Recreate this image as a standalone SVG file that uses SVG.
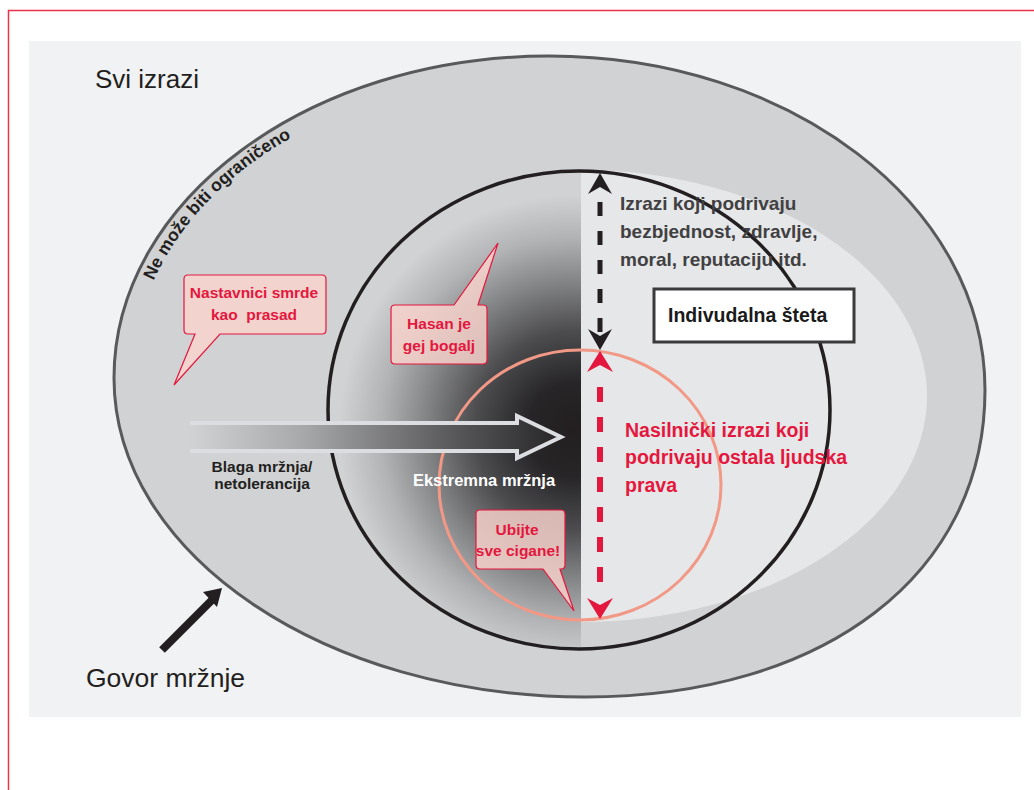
<svg xmlns="http://www.w3.org/2000/svg" width="1034" height="790" viewBox="0 0 1034 790">
  <defs>
    <style>
      .b { font-family: "Liberation Sans", Arial, sans-serif; font-weight: bold; }
      .r { font-family: "Liberation Sans", Arial, sans-serif; font-weight: normal; }
      .red { fill: #e4173e; }
      .bubble { fill: #fad3cc; fill-opacity: 0.82; stroke: #e4173e; stroke-width: 1.2; }
      .bubtxt { font-size: 15.5px; text-anchor: middle; }
    </style>
    <radialGradient id="dark" gradientUnits="userSpaceOnUse" cx="574" cy="430" r="235">
      <stop offset="0" stop-color="#231f20"/>
      <stop offset="0.2" stop-color="#272527"/>
      <stop offset="0.42" stop-color="#4c4c4e"/>
      <stop offset="0.62" stop-color="#808183"/>
      <stop offset="0.82" stop-color="#b2b3b5"/>
      <stop offset="1" stop-color="#d1d2d4"/>
    </radialGradient>
    <linearGradient id="arrowFill" gradientUnits="userSpaceOnUse" x1="190" y1="0" x2="562" y2="0">
      <stop offset="0" stop-color="#d1d2d4"/>
      <stop offset="0.3" stop-color="#a8a9ab"/>
      <stop offset="0.7" stop-color="#5a5a5c"/>
      <stop offset="1" stop-color="#262426"/>
    </linearGradient>
    <clipPath id="innerClip">
      <ellipse cx="579" cy="410" rx="250" ry="238"/>
    </clipPath>
    <clipPath id="rightClip">
      <rect x="581" y="100" width="500" height="600"/>
    </clipPath>
    <path id="curvePath" d="M133,378 C133,207 314,75 549,75"/>
  </defs>

  <rect x="0" y="0" width="1034" height="790" fill="#ffffff"/>
  <rect x="8.5" y="10.5" width="1040" height="800" fill="none" stroke="#e8334a" stroke-width="1.5"/>
  <rect x="29" y="41" width="992" height="676" fill="#f1f2f4"/>

  <g id="outer">
    <path d="M114,378 C114,200 309,56 549,56 C790,56 985,205 985,390 C985,574 825,697 585,697 C325,697 114,554 114,378 Z" fill="#d1d2d4" stroke="#58595b" stroke-width="3"/>
  </g>

  <g id="light-region">
    <ellipse cx="580" cy="396" rx="347" ry="226" fill="#e6e7e8" clip-path="url(#rightClip)"/>
  </g>

  <g id="dark-region">
    <rect x="320" y="160" width="261" height="500" fill="url(#dark)" clip-path="url(#innerClip)"/>
  </g>

  <g id="inner-circle">
    <ellipse cx="579" cy="410" rx="251" ry="239" fill="none" stroke="#231f20" stroke-width="3.5"/>
  </g>

  <g id="violent-circle">
    <ellipse cx="580" cy="485" rx="141" ry="135" fill="none" stroke="#f29886" stroke-width="3"/>
  </g>

  <g id="big-arrow">
    <path d="M190,423 L517,423 L517,416 L561,437 L517,458 L517,451 L190,451 Z" fill="url(#arrowFill)"/>
    <path d="M190,423 L517,423 L517,416 L561,437 L517,458 L517,451 L190,451" fill="none" stroke="#dcdde0" stroke-width="4" stroke-linejoin="miter"/>
  </g>

  <g id="connectors">
    <line x1="600" y1="202" x2="600" y2="334" stroke="#231f20" stroke-width="5" stroke-dasharray="14 15"/>
    <path d="M600,173 L612,194 L600,187 L588,194 Z" fill="#231f20"/>
    <path d="M600,350 L612,329 L600,336 L588,329 Z" fill="#231f20"/>
    <line x1="600" y1="387" x2="600" y2="583" stroke="#e4173e" stroke-width="6" stroke-dasharray="15 15"/>
    <path d="M600,351 L613,372 L600,365 L587,372 Z" fill="#e4173e"/>
    <path d="M600,619 L613,598 L600,605 L587,598 Z" fill="#e4173e"/>
    <line x1="162" y1="650" x2="212" y2="600" stroke="#231f20" stroke-width="8"/>
    <path d="M203,592 L222,588 L217,607 Z" fill="#231f20"/>
  </g>

  <g id="bubble-nastavnici">
    <path class="bubble" d="M188,275 H322 Q326,275 326,279 V330 Q326,334 322,334 H220 L174,385 L195,334 H188 Q184,334 184,330 V279 Q184,275 188,275 Z"/>
    <text class="b red bubtxt" x="254" y="298">Nastavnici smrde</text>
    <text class="b red bubtxt" x="254" y="320" xml:space="preserve">kao  prasad</text>
  </g>

  <g id="bubble-hasan">
    <path class="bubble" d="M395,305 H454 L498,243 L478,305 H483 Q487,305 487,309 V360 Q487,364 483,364 H395 Q391,364 391,360 V309 Q391,305 395,305 Z"/>
    <text class="b red bubtxt" x="439" y="329">Hasan je</text>
    <text class="b red bubtxt" x="439" y="351">gej bogalj</text>
  </g>

  <g id="bubble-ubijte">
    <path class="bubble" d="M480,510 H561 Q565,510 565,514 V565 Q565,569 561,569 H560 L574,611 L543,569 H480 Q476,569 476,565 V514 Q476,510 480,510 Z"/>
    <text class="b red bubtxt" x="517" y="535">Ubijte</text>
    <text class="b red bubtxt" x="518" y="556" font-size="15px">sve cigane!</text>
  </g>

  <g id="individual-box">
    <rect x="654" y="289" width="200" height="53" fill="#ffffff" stroke="#3a3a3c" stroke-width="3"/>
    <text class="b" x="668" y="322" font-size="19.5" fill="#1a1a1a">Indivudalna šteta</text>
  </g>

  <g id="labels">
    <text class="r" x="95" y="88" font-size="26" fill="#231f20">Svi izrazi</text>
    <text class="r" x="86" y="687" font-size="26.5" fill="#231f20">Govor mržnje</text>
    <text class="b" font-size="17.5" fill="#231f20"><textPath href="#curvePath" startOffset="100">Ne može biti ograničeno</textPath></text>
    <text class="b" x="262" y="472" font-size="15.5" fill="#231f20" text-anchor="middle">Blaga mržnja/</text>
    <text class="b" x="262" y="489" font-size="15.5" fill="#231f20" text-anchor="middle">netolerancija</text>
    <text class="b" x="484" y="486" font-size="16.5" fill="#ffffff" text-anchor="middle">Ekstremna mržnja</text>
    <text class="b" x="620" y="210" font-size="19" fill="#414042">Izrazi koji podrivaju</text>
    <text class="b" x="620" y="238" font-size="19" fill="#414042">bezbjednost, zdravlje,</text>
    <text class="b" x="620" y="266" font-size="19" fill="#414042">moral, reputaciju itd.</text>
    <text class="b red" x="625" y="437" font-size="19.5">Nasilnički izrazi koji</text>
    <text class="b red" x="625" y="464" font-size="19.5">podrivaju ostala ljudska</text>
    <text class="b red" x="625" y="492" font-size="19.5">prava</text>
  </g>
</svg>
